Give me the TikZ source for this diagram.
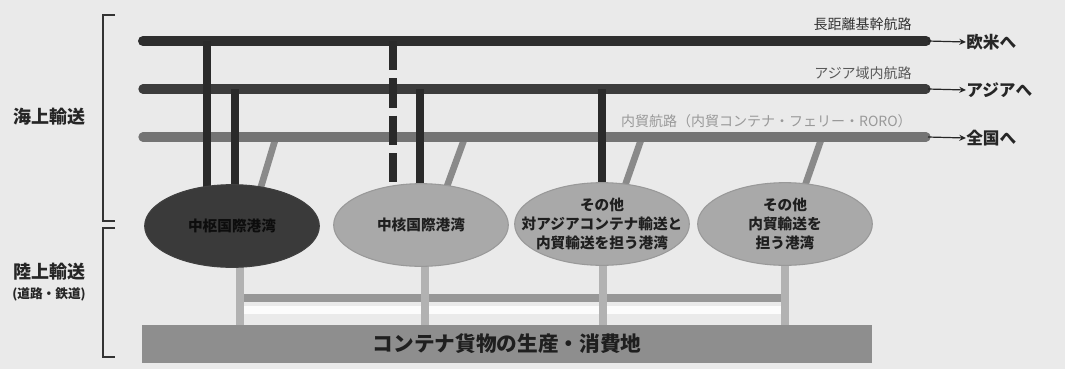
\documentclass[tikz,border=0pt]{standalone}
\usepackage{fontspec}
\newfontfamily\jp{Noto Sans CJK JP}
\usetikzlibrary{arrows.meta,shapes.geometric}
\definecolor{bg}{HTML}{EAEAEA}
\definecolor{routeA}{HTML}{2E2E2E}
\definecolor{routeB}{HTML}{3C3C3C}
\definecolor{routeC}{HTML}{747474}
\definecolor{vdark}{HTML}{2A2A2A}
\definecolor{diag}{HTML}{8A8A8A}
\definecolor{portdark}{HTML}{3A3A3A}
\definecolor{portlight}{HTML}{A9A9A9}
\definecolor{land}{HTML}{B2B2B2}
\definecolor{barfill}{HTML}{8E8E8E}
\tikzset{
  route/.style={line cap=round, line width=7pt},
  vline/.style={line width=6pt, vdark},
  dline/.style={line width=5pt, diag},
  stem/.style={line width=5.5pt, land},
  port/.style={ellipse, minimum width=131pt, minimum height=62pt, inner sep=0pt, line width=0.8pt},
  porttext/.style={align=center, inner sep=0pt, font=\jp\bfseries\fontsize{11pt}{14.5pt}\selectfont, text=black!88},
  rlabel/.style={anchor=south east, inner sep=0pt, font=\jp\fontsize{10.5pt}{12pt}\selectfont},
  dest/.style={anchor=west, inner sep=0pt, font=\jp\bfseries\fontsize{12.5pt}{14pt}\selectfont, text=black!85},
  tip/.style={-{Stealth[length=5pt,width=4.5pt]}, line width=0.9pt, black!85},
  side/.style={font=\jp\bfseries\fontsize{13.5pt}{15pt}\selectfont, inner sep=0pt, text=black!85},
  bracket/.style={line width=1.2pt, black!80},
}
\begin{document}
\begin{tikzpicture}[x=0.75pt,y=-0.75pt]
\useasboundingbox (0,0) rectangle (1065,369);
\fill[bg] (0,0) rectangle (1065,369);

% brackets
\coordinate (b1t) at (115,15); \coordinate (b1tc) at (103,15);
\coordinate (b1bc) at (103,221); \coordinate (b1b) at (115,221);
\coordinate (b2t) at (115,228); \coordinate (b2tc) at (103,228);
\coordinate (b2bc) at (103,357); \coordinate (b2b) at (115,357);
\draw[bracket] (b1t) -- (b1tc) -- (b1bc) -- (b1b);
\draw[bracket] (b2t) -- (b2tc) -- (b2bc) -- (b2b);
\node[side] (sea) at (49,117) {海上輸送};
\node[side] (landl) at (49,272) {陸上輸送};
\node[side, font=\jp\bfseries\fontsize{9.5pt}{11pt}\selectfont] (landsub) at (49,294) {(道路・鉄道)};

% route end points
\coordinate (r1w) at (143,41); \coordinate (r1e) at (926,41);
\coordinate (r2w) at (143,89); \coordinate (r2e) at (926,89);
\coordinate (r3w) at (143,137); \coordinate (r3e) at (926,137);

% land: road and stems
\coordinate (s1t) at (240,250); \coordinate (s1b) at (240,330);
\coordinate (s2t) at (425,250); \coordinate (s2b) at (425,330);
\coordinate (s3t) at (603,250); \coordinate (s3b) at (603,330);
\coordinate (s4t) at (785,250); \coordinate (s4b) at (785,330);
\coordinate (rdw) at (240,298); \coordinate (rde) at (785,298);
\coordinate (rww) at (240,310); \coordinate (rwe) at (785,310);
\draw[line width=5.5pt, white!85!bg] (rww) -- (rwe);
\draw[line width=6pt, land!85!black] (rdw) -- (rde);
\draw[stem] (s1t) -- (s1b);
\draw[stem] (s2t) -- (s2b);
\draw[stem] (s3t) -- (s3b);
\draw[stem] (s4t) -- (s4b);

% sea connectors (under ports)
\coordinate (v1t) at (207,41);  \coordinate (v1b) at (207,215);
\coordinate (v2t) at (235,89);  \coordinate (v2b) at (235,215);
\coordinate (v3t) at (393,41);  \coordinate (v3b) at (393,215);
\coordinate (v4t) at (420,89);  \coordinate (v4b) at (420,215);
\coordinate (v5t) at (602,89);  \coordinate (v5b) at (602,215);
\coordinate (d1t) at (276,137); \coordinate (d1b) at (257,200);
\coordinate (d2t) at (465,137); \coordinate (d2b) at (442,200);
\coordinate (d3t) at (642,137); \coordinate (d3b) at (620,200);
\coordinate (d4t) at (822,137); \coordinate (d4b) at (800,200);
\draw[dline] (d1t) -- (d1b);
\draw[dline] (d2t) -- (d2b);
\draw[dline] (d3t) -- (d3b);
\draw[dline] (d4t) -- (d4b);

% routes
\draw[route, routeC] (r3w) -- (r3e);
\draw[route, routeB] (r2w) -- (r2e);
\draw[route, routeA, line width=7.5pt] (r1w) -- (r1e);

\draw[vline] (v1t) -- (v1b);
\draw[vline] (v2t) -- (v2b);
\draw[vline, dash pattern=on 22pt off 6pt] (v3t) -- (v3b);
\draw[vline] (v4t) -- (v4b);
\draw[vline] (v5t) -- (v5b);

% route labels
\node[rlabel, black!80] (lab1) at (912,31) {長距離基幹航路};
\node[rlabel, black!65] (lab2) at (912,80) {アジア域内航路};
\node[rlabel, black!40] (lab3) at (912,128) {内貿航路（内貿コンテナ・フェリー・RORO）};

% destinations
\node[dest] (eu) at (966,42) {欧米へ};
\node[dest] (as) at (966,90) {アジアへ};
\node[dest] (jp) at (966,138) {全国へ};
\coordinate (a1) at (928,41); \coordinate (a2) at (928,89); \coordinate (a3) at (928,137);
\draw[tip] (a1) -- (eu.west);
\draw[tip] (a2) -- (as.west);
\draw[tip] (a3) -- (jp.west);

% ports
\node[port, fill=portdark, draw=black!75] (p1) at (232,226) {};
\node[port, fill=portlight, draw=black!40] (p2) at (421,225) {};
\node[port, fill=portlight, draw=black!40] (p3) at (602,224) {};
\node[port, fill=portlight, draw=black!40] (p4) at (785,224) {};
\node[porttext, text=black!95] (t1) at (p1.center) {中枢国際港湾};
\node[porttext] (t2) at (p2.center) {中核国際港湾};
\node[porttext] (t3) at (p3.center) {その他\\対アジアコンテナ輸送と\\内貿輸送を担う港湾};
\node[porttext] (t4) at (p4.center) {その他\\内貿輸送を\\担う港湾};

% bottom bar
\node[fill=barfill, minimum width=547.5pt, minimum height=28.5pt, inner sep=0pt,
      font=\jp\bfseries\fontsize{15.5pt}{17pt}\selectfont, text=black!88] (area) at (507,344) {コンテナ貨物の生産・消費地};
\end{tikzpicture}
\end{document}
